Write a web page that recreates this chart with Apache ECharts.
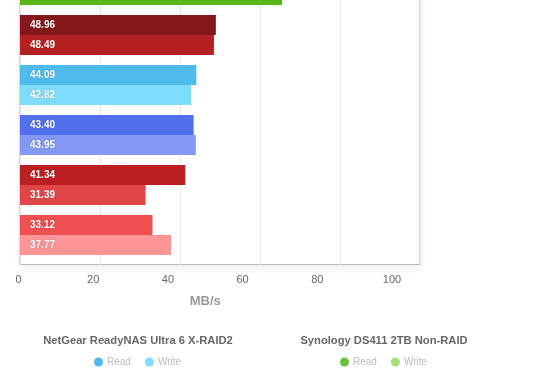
<!DOCTYPE html>
<html><head><meta charset="utf-8">
<script src="https://cdn.jsdelivr.net/npm/echarts@6/dist/echarts.min.js"></script>
<style>html,body{margin:0;padding:0;background:#fff}#c{width:560px;height:390px}</style>
</head><body><div id="c"></div>
<script>
// Data
const categories = ['Group A', 'Group B', 'Group C', 'Group D', 'Group E', 'Group F'];
const readValues  = [null, 48.96, 44.09, 43.40, 41.34, 33.12];
const writeValues = [65.5, 48.49, 42.82, 43.95, 31.39, 37.77];
const readColors  = ['#4aa81a', '#84171a', '#4fbbec', '#5270ec', '#bc1f22', '#ee4f50'];
const writeColors = ['#58b618', '#b52022', '#80dcff', '#8399f5', '#e04548', '#ff9597'];
const xTicks = [0, 20, 40, 60, 80, 100];
const legendGroups = ['NetGear ReadyNAS Ultra 6 X-RAID2', 'Synology DS411 2TB Non-RAID'];

const FONT = "'Liberation Sans', Arial, Helvetica, sans-serif";
function mk(vals, cols) {
  return vals.map((v, i) => ({ value: v, itemStyle: { color: cols[i] } }));
}
const barLabel = {
  show: true, position: 'insideLeft', distance: 10,
  color: '#fff', fontSize: 10, fontWeight: 'bold', fontFamily: FONT,
  textShadowColor: 'rgba(0,0,0,0.25)', textShadowBlur: 2,
  formatter: p => p.value == null ? '' : Number(p.value).toFixed(2)
};
const xMin = xTicks[0], xMax = xTicks[xTicks.length - 1];
const chart = echarts.init(document.getElementById('c'), null, { renderer: 'canvas' });
chart.setOption({
  animation: false,
  backgroundColor: '#fff',
  title: [
    { text: legendGroups[0], left: 138, textAlign: 'center', top: 335, padding: 0,
      textStyle: { fontFamily: FONT, fontSize: 11.2, fontWeight: 'bold', color: '#666' } },
    { text: legendGroups[1], left: 384, textAlign: 'center', top: 335, padding: 0,
      textStyle: { fontFamily: FONT, fontSize: 11.2, fontWeight: 'bold', color: '#666' } }
  ],
  legend: [
    { data: ['NetGear Read', 'NetGear Write'], left: 94, top: 357, padding: 0,
      icon: 'circle', itemWidth: 9, itemHeight: 9, itemGap: 14,
      formatter: n => n.replace(/^\S+ /, ''),
      textStyle: { fontFamily: FONT, fontSize: 10, color: '#bbb', padding: [0, 0, 0, -1] } },
    { data: ['Synology Read', 'Synology Write'], left: 340, top: 357, padding: 0,
      icon: 'circle', itemWidth: 9, itemHeight: 9, itemGap: 14,
      formatter: n => n.replace(/^\S+ /, ''),
      textStyle: { fontFamily: FONT, fontSize: 10, color: '#bbb', padding: [0, 0, 0, -1] } }
  ],
  grid: [
    { left: 20, right: 140, top: -40, bottom: 130, containLabel: false, outerBoundsMode: 'none' },
    { left: 20, right: 140, top: -40, bottom: 125.5, show: true, borderColor: '#bbb', borderWidth: 1,
      outerBoundsMode: 'none',
      backgroundColor: '#fff', shadowColor: 'rgba(0,0,0,0.06)', shadowBlur: 8, shadowOffsetY: 4, z: 0 },
    { left: 18.5, right: 168, top: -40, bottom: 125.5, show: false, outerBoundsMode: 'none' }
  ],
  xAxis: [
    { gridIndex: 0, type: 'value', min: xMin, max: xMax, interval: 20, show: false },
    { gridIndex: 1, type: 'value', min: xMin, max: xMax, interval: 20,
      axisLine: { show: false }, axisTick: { show: false }, axisLabel: { show: false },
      splitLine: { show: true, lineStyle: { color: '#e6e6e6', width: 1 } } },
    { gridIndex: 2, type: 'value', min: xMin, max: xMax, interval: 20,
      axisLine: { show: false }, axisTick: { show: false }, splitLine: { show: false },
      axisLabel: { margin: 10, color: '#666', fontSize: 11, fontFamily: FONT },
      name: 'MB/s', nameLocation: 'middle', nameGap: 30,
      nameTextStyle: { color: '#999', fontSize: 13, fontWeight: 'bold', fontFamily: FONT } }
  ],
  yAxis: [
    { gridIndex: 0, type: 'category', data: categories, inverse: true, show: false },
    { gridIndex: 1, type: 'category', data: categories, inverse: true, show: false },
    { gridIndex: 2, type: 'category', data: categories, inverse: true, show: false }
  ],
  series: [
    { name: 'NetGear Read', type: 'bar', xAxisIndex: 0, yAxisIndex: 0, barWidth: 20, barGap: '0%',
      itemStyle: { color: '#4db8ea' }, data: mk(readValues, readColors), label: barLabel, z: 3 },
    { name: 'NetGear Write', type: 'bar', xAxisIndex: 0, yAxisIndex: 0, barWidth: 20, barGap: '0%',
      itemStyle: { color: '#80dcff' }, data: mk(writeValues, writeColors), label: barLabel, z: 3 },
    { name: 'Synology Read', type: 'bar', xAxisIndex: 1, yAxisIndex: 1, itemStyle: { color: '#6cc23c' }, data: [] },
    { name: 'Synology Write', type: 'bar', xAxisIndex: 1, yAxisIndex: 1, itemStyle: { color: '#a5e07a' }, data: [] }
  ]
});
</script></body></html>
